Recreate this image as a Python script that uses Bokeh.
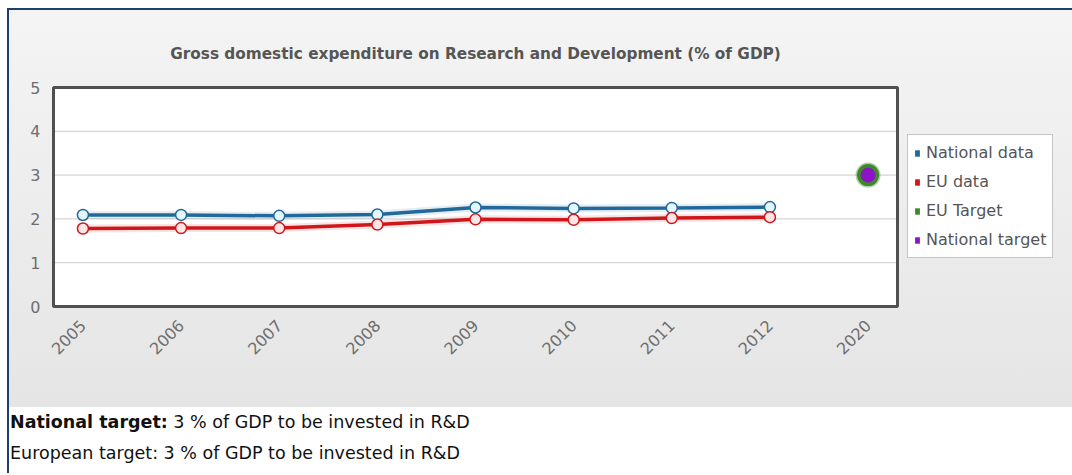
from bokeh.plotting import figure
from bokeh.models import (Range1d, FixedTicker, Legend, LegendItem, Div, Label,
                          ColumnDataSource)
from bokeh.layouts import column
from bokeh.embed import file_html
from bokeh.resources import INLINE
import math

# ---- data ----
years = ["2005", "2006", "2007", "2008", "2009", "2010", "2011", "2012", "2020"]
data_years = ["2005", "2006", "2007", "2008", "2009", "2010", "2011", "2012"]
national_data = [2.09, 2.09, 2.07, 2.10, 2.26, 2.24, 2.25, 2.27]
eu_data = [1.78, 1.79, 1.79, 1.87, 1.99, 1.98, 2.02, 2.04]
target_years = ["2020"]
eu_target = [3.0]
national_target = [3.0]
y_ticks = [0, 1, 2, 3, 4, 5]

title_text = "Gross domestic expenditure on Research and Development (% of GDP)"
series_names = ["National data", "EU data", "EU Target", "National target"]

BLUE = "#22699a"
RED = "#d0161b"
GREEN = "#3c8a2a"
PURPLE = "#8e12c6"
FONT = "DejaVu Sans"

idx = {y: i for i, y in enumerate(years)}
xd = [idx[y] for y in data_years]
xt = [idx[y] for y in target_years]

# plot-box extent in data units (category padding of 0.3 on each side)
PAD = 0.3
box_l, box_r = -PAD, len(years) - 1 + PAD
box_b, box_t = y_ticks[0], y_ticks[-1]

# pixel geometry: the white box is 844 x 219 px; the frame extends beyond it
FIG_W, FIG_H = 1063, 397
FRAME_L, FRAME_B = 41, 98          # borders of the figure (px)
BOX_OFF = 3                        # box edge offset from frame left / bottom
BOX_W, BOX_H = 844, 219
sx = BOX_W / (box_r - box_l)
sy = BOX_H / (box_t - box_b)
frame_w = FIG_W - FRAME_L
frame_h = FIG_H - FRAME_B
x0 = box_l - BOX_OFF / sx
y0 = box_b - BOX_OFF / sy

p = figure(width=FIG_W, height=FIG_H, output_backend="svg", toolbar_location=None,
           title=None,
           x_range=Range1d(x0, x0 + frame_w / sx), y_range=Range1d(y0, y0 + frame_h / sy),
           min_border_left=FRAME_L, min_border_right=0, min_border_top=0,
           min_border_bottom=FRAME_B,
           styles={"background": "linear-gradient(#f4f4f4, #e5e5e5)"})
p.border_fill_alpha = 0
p.background_fill_alpha = 0
p.outline_line_color = None
p.xgrid.grid_line_color = None
p.ygrid.grid_line_color = None

p.xaxis.ticker = FixedTicker(ticks=list(range(len(years))))
p.xaxis.major_label_overrides = {i: y for i, y in enumerate(years)}
p.xaxis.major_label_orientation = math.pi / 4
p.yaxis.ticker = FixedTicker(ticks=y_ticks)
for ax in (p.xaxis[0], p.yaxis[0]):
    ax.axis_line_color = None
    ax.major_tick_line_color = None
    ax.minor_tick_line_color = None
    ax.major_label_text_color = "#6e6e6e"
    ax.major_label_text_font = FONT
p.xaxis.major_label_text_font_size = "16px"
p.xaxis.major_label_standoff = 7
p.yaxis.major_label_text_font_size = "16px"
p.yaxis.major_label_standoff = 4

# white plot box
p.quad(left=[box_l], right=[box_r], bottom=[box_b], top=[box_t],
       fill_color="white", line_color=None)
# horizontal grid lines
inner = y_ticks[1:-1]
p.segment(x0=[box_l] * len(inner), x1=[box_r] * len(inner), y0=inner, y1=inner,
          line_color="#cccccc", line_width=1)
# box border
p.quad(left=[box_l], right=[box_r], bottom=[box_b], top=[box_t],
       fill_color=None, line_color="#505050", line_width=3)

# series lines with glow
src_n = ColumnDataSource(dict(x=xd, y=national_data))
src_e = ColumnDataSource(dict(x=xd, y=eu_data))
p.line("x", "y", source=src_n, line_color=BLUE, line_width=8, line_alpha=0.12)
p.line("x", "y", source=src_e, line_color=RED, line_width=8, line_alpha=0.12)
p.line("x", "y", source=src_n, line_color=BLUE, line_width=3.5)
p.line("x", "y", source=src_e, line_color=RED, line_width=3.5)
p.scatter("x", "y", source=src_n, size=11, fill_color="#e4f7ff", line_color=BLUE,
          line_width=1.5)
p.scatter("x", "y", source=src_e, size=11, fill_color="#ffe6e6", line_color=RED,
          line_width=1.5)

# targets
p.scatter(xt, eu_target, size=22, fill_color=GREEN, line_color=GREEN, line_alpha=0.4,
          line_width=3)
p.scatter(xt, national_target, size=14, fill_color=PURPLE, line_color=PURPLE)

# legend proxies (not visible in the plot)
nan = float("nan")
proxies = []
for c in (BLUE, RED, GREEN, PURPLE):
    proxies.append(p.quad(left=[nan], right=[nan], top=[nan], bottom=[nan],
                          fill_color=c, line_color=None))
legend = Legend(items=[LegendItem(label=n, renderers=[r])
                       for n, r in zip(series_names, proxies)],
                location=(BOX_OFF + BOX_W + 10, BOX_OFF + 48), orientation="vertical",
                label_text_font=FONT, label_text_font_size="16px",
                label_text_color="#555555", glyph_width=6, glyph_height=8,
                label_standoff=6, label_height=23, spacing=6, padding=6,
                margin=0, border_line_color="#8c8c8c", border_line_width=1,
                background_fill_color="white", background_fill_alpha=1)
p.add_layout(legend, "center")

# title
p.add_layout(Label(x=(box_l + box_r) / 2, y=box_t + 34 / sy, text=title_text,
                   text_align="center", text_baseline="middle",
                   text_font=FONT, text_font_style="bold",
                   text_font_size="15.3px", text_color="#555555"))

footer = Div(text=(
    "<div style='font-family:\"DejaVu Sans\";font-size:17.5px;color:#111;"
    "line-height:31px;padding-top:0px;padding-left:1px'>"
    "<b>National target:</b> 3 % of GDP to be invested in R&amp;D<br>"
    "European target: 3 % of GDP to be invested in R&amp;D</div>"),
    width=1063, height=66, margin=(0, 0, 0, 2),
    styles={"background": "white"})
p.margin = (2, 0, 0, 2)

root = column(p, footer, margin=(8, 0, 0, 7),
              styles={"background-color": "#1f3e6b"})

open("out.html", "w").write(file_html(root, INLINE))
